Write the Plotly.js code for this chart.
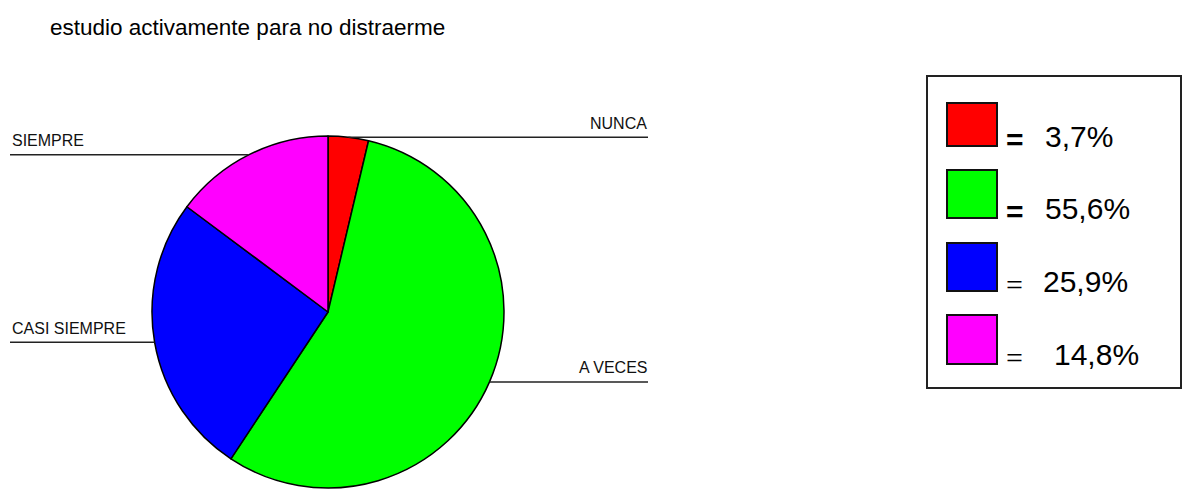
<!DOCTYPE html>
<html>
<head>
<meta charset="utf-8">
<script src="https://cdn.plot.ly/plotly-3.0.1.min.js"></script>
<style>html,body{margin:0;padding:0;overflow:hidden;background:#fff;}</style>
</head>
<body>
<div id="chart" style="width:1191px;height:489px;"></div>
<script>
const titleText = 'estudio activamente para no distraerme';
const categories = ['NUNCA', 'A VECES', 'CASI SIEMPRE', 'SIEMPRE'];
const values = [3.7, 55.6, 25.9, 14.8];
const colors = ['#FF0000', '#00FF00', '#0000FF', '#FF00FF'];

const W = 1191, H = 489;
const FONT = 'Liberation Sans, Arial, sans-serif';
const px = x => x / W;
const py = y => 1 - y / H;

// pie geometry (pixels)
const cx = 328, cy = 312, r = 176;

const shapes = [];
const annotations = [];

// title
annotations.push({
  text: titleText, xref: 'paper', yref: 'paper', x: px(48), y: py(27),
  xanchor: 'left', yanchor: 'middle', showarrow: false,
  font: {family: FONT, size: 22.5, color: '#000'}
});

// leader lines + labels computed from slice mid-angles
const total = values.reduce((a, b) => a + b, 0);
let cum = 0;
values.forEach((v, i) => {
  const frac = (cum + v / 2) / total;
  cum += v;
  const th = 2 * Math.PI * frac;
  const ex = cx + r * Math.sin(th);
  const ey = cy - r * Math.cos(th);
  const right = Math.sin(th) > 0;
  const endX = right ? 648 : 10;
  shapes.push({type: 'line', xref: 'paper', yref: 'paper',
    x0: px(ex), y0: py(ey), x1: px(endX), y1: py(ey),
    line: {color: '#222', width: 1.5}});
  annotations.push({
    text: categories[i], xref: 'paper', yref: 'paper',
    x: px(right ? 649 : 10), y: py(ey - 14),
    xanchor: right ? 'right' : 'left', yanchor: 'middle', showarrow: false,
    font: {family: FONT, size: 16, color: '#111'}
  });
});

// legend box
shapes.push({type: 'rect', xref: 'paper', yref: 'paper',
  x0: px(927), y0: py(76), x1: px(1181), y1: py(388),
  line: {color: '#222', width: 2}, fillcolor: 'rgba(0,0,0,0)'});

const rowTop = [103, 170, 243, 315];
const rowBot = [146, 218, 291, 364];
const numX = [1043, 1043, 1041, 1052];
const eqSerif = [false, false, true, true];
values.forEach((v, i) => {
  shapes.push({type: 'rect', xref: 'paper', yref: 'paper',
    x0: px(947), y0: py(rowTop[i]), x1: px(997), y1: py(rowBot[i]),
    line: {color: '#111', width: 2}, fillcolor: colors[i]});
  const midY = rowBot[i] - 8;
  annotations.push({
    text: eqSerif[i] ? '=' : '<b>=</b>', xref: 'paper', yref: 'paper', x: px(1004), y: py(midY + 1),
    xanchor: 'left', yanchor: 'middle', showarrow: false,
    font: {family: eqSerif[i] ? 'Liberation Serif, serif' : FONT, size: 30, color: '#000'}
  });
  annotations.push({
    text: v.toFixed(1).replace('.', ',') + '%', xref: 'paper', yref: 'paper',
    x: px(numX[i]), y: py(midY - 2),
    xanchor: 'left', yanchor: 'middle', showarrow: false,
    font: {family: FONT, size: 30, color: '#000'}
  });
});

const trace = {
  type: 'pie',
  labels: categories,
  values: values,
  sort: false,
  direction: 'clockwise',
  rotation: 0,
  marker: {colors: colors, line: {color: '#000', width: 1.5}},
  textinfo: 'none',
  hoverinfo: 'label+percent',
  showlegend: false,
  domain: {x: [px(cx - r), px(cx + r)], y: [py(cy + r), py(cy - r)]}
};

const layout = {
  width: W, height: H,
  margin: {l: 0, r: 0, t: 0, b: 0},
  paper_bgcolor: '#fff',
  plot_bgcolor: '#fff',
  showlegend: false,
  shapes: shapes,
  annotations: annotations
};

Plotly.newPlot('chart', [trace], layout, {displayModeBar: false, staticPlot: true});
</script>
</body>
</html>
